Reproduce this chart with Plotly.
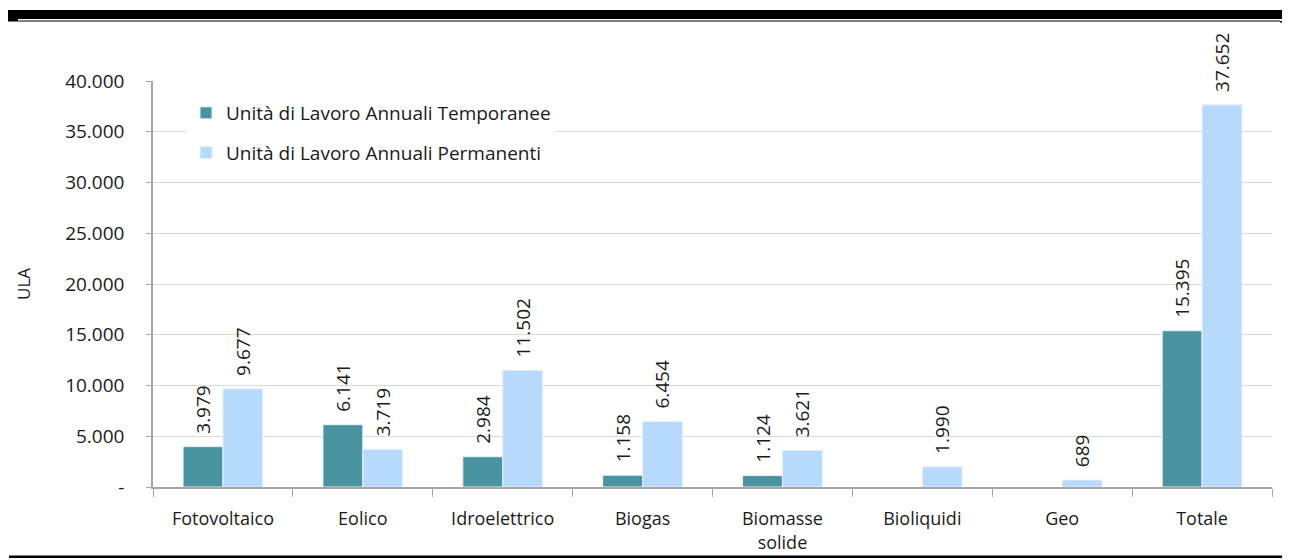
import plotly.graph_objects as go

categories = ["Fotovoltaico", "Eolico", "Idroelettrico", "Biogas", "Biomasse<br>solide",
              "Bioliquidi", "Geo", "Totale"]
temporanee = [3979, 6141, 2984, 1158, 1124, 0, 0, 15395]
permanenti = [9677, 3719, 11502, 6454, 3621, 1990, 689, 37652]
tick_vals = [0, 5000, 10000, 15000, 20000, 25000, 30000, 35000, 40000]
tick_text = ["-", "5.000", "10.000", "15.000", "20.000", "25.000", "30.000", "35.000", "40.000"]
series_names = ["Unità di Lavoro Annuali Temporanee", "Unità di Lavoro Annuali Permanenti"]

PAD = "\u00a0\u00a0"  # gap between bar top and rotated label


def fmt(v):
    return "" if v == 0 else PAD + f"{v:,}".replace(",", ".")


def nz(vals):
    return [None if v == 0 else v for v in vals]


OFF = 8  # page body margin
PW, PH = 1290, 560
W, H = PW - OFF, PH - OFF
# plot area in page pixels
L, R, T, B = 153, 1272, 81, 487
FONT = "Open Sans"
TXT = "#1a1a1a"

fig = go.Figure()
fig.add_trace(go.Bar(
    x=categories, y=nz(temporanee), name=series_names[0],
    marker=dict(color="#4A94A1", line=dict(color="#E8F2F4", width=1)),
    text=[fmt(v) for v in temporanee], textposition="outside", textangle=-90,
    textfont=dict(family=FONT, size=19, color=TXT), cliponaxis=False,
    constraintext="none", legendgroup="a",
))
fig.add_trace(go.Bar(
    x=categories, y=nz(permanenti), name=series_names[1],
    marker=dict(color="#B7DAFC", line=dict(color="#E6F1FE", width=1)),
    text=[fmt(v) for v in permanenti], textposition="outside", textangle=-90,
    textfont=dict(family=FONT, size=19, color=TXT), cliponaxis=False,
    constraintext="none", legendgroup="b",
))


def px_x(x):
    return (x - L) / (R - L)


def px_y(y):
    return (B - y) / (B - T)


def rect(x0, x1, y0, y1):
    return dict(type="rect", xref="paper", yref="paper",
                x0=px_x(x0), x1=px_x(x1), y0=px_y(y1), y1=px_y(y0),
                fillcolor="black", line=dict(width=0), layer="above")


shapes = [
    rect(8, 1290, 10, 19),
    rect(18, 1280, 20.5, 21.5),
    rect(8, 18, 19, 21.5),
    rect(1280, 1290, 21, 22.5),
    rect(9, 1290, 555.5, 558),
]

fig.update_layout(
    width=W, height=H,
    margin=dict(l=L - OFF, r=PW - R, t=T - OFF, b=PH - B),
    paper_bgcolor="white", plot_bgcolor="white",
    barmode="group", bargap=0.43, bargroupgap=0,
    font=dict(family=FONT, size=19, color=TXT),
    showlegend=True,
    legend=dict(
        x=px_x(186), y=px_y(94), xanchor="left", yanchor="top",
        bgcolor="white", font=dict(family=FONT, size=19, color=TXT),
        traceorder="grouped", tracegroupgap=12,
    ),
    shapes=shapes,
    xaxis=dict(
        showline=True, linecolor="#A6A6A6", linewidth=1.5,
        ticks="outside", tickson="boundaries", ticklen=8, tickcolor="#A6A6A6",
        tickfont=dict(family=FONT, size=18, color=TXT),
        ticklabelstandoff=15, automargin=False,
        showgrid=False,
    ),
    yaxis=dict(
        range=[0, 40000], tickvals=tick_vals, ticktext=tick_text,
        showline=True, linecolor="#A6A6A6", linewidth=1.5,
        ticks="outside", ticklen=5, tickcolor="#A6A6A6",
        ticklabelstandoff=18, automargin=False,
        showgrid=True, gridcolor="#D9D9D9", gridwidth=1,
        tickfont=dict(family=FONT, size=19, color=TXT),
        title=dict(text="ULA", font=dict(family=FONT, size=17, color=TXT), standoff=30),
        zeroline=False,
    ),
)

fig.write_html("out.html")
